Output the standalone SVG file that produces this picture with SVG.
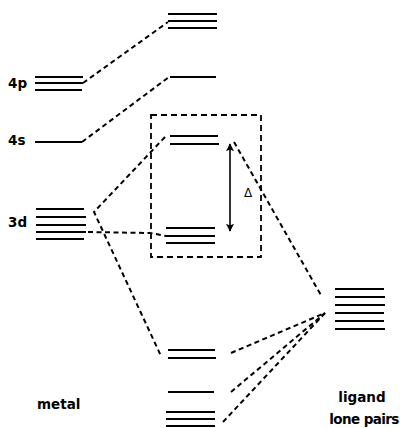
<svg xmlns="http://www.w3.org/2000/svg" width="400" height="428" viewBox="0 0 400 428">
  <defs>
    <style>
      .lvl { stroke: #000; stroke-width: 1.9; fill: none; }
      .dash { stroke: #000; stroke-width: 2; fill: none; stroke-dasharray: 5 3.5; }
      .box { stroke: #000; stroke-width: 1.8; fill: none; stroke-dasharray: 6 4; }
      .lbl { font-family: "DejaVu Sans", "Liberation Sans", sans-serif; font-weight: bold; font-size: 13.5px; fill: #000; }
      .arr { stroke: #000; stroke-width: 1.6; fill: none; }
    </style>
    <marker id="head" viewBox="0 0 10 10" refX="9" refY="5" markerWidth="14" markerHeight="8" markerUnits="userSpaceOnUse" orient="auto-start-reverse">
      <path d="M0,0 L10,5 L0,10 L2,5 Z" fill="#000"/>
    </marker>
  </defs>
  <rect width="400" height="428" fill="#fff"/>

  <!-- metal orbitals -->
  <g id="metal-4p">
    <line class="lvl" x1="35" y1="77" x2="83" y2="77"/>
    <line class="lvl" x1="35" y1="83" x2="83" y2="83"/>
    <line class="lvl" x1="35" y1="90" x2="82" y2="90"/>
    <text class="lbl" x="8" y="88">4p</text>
  </g>
  <g id="metal-4s">
    <line class="lvl" x1="35" y1="142" x2="82" y2="142"/>
    <text class="lbl" x="8" y="145">4s</text>
  </g>
  <g id="metal-3d">
    <line class="lvl" x1="36" y1="209" x2="84" y2="209"/>
    <line class="lvl" x1="36" y1="217" x2="86" y2="217"/>
    <line class="lvl" x1="36" y1="225" x2="86" y2="225"/>
    <line class="lvl" x1="36" y1="232" x2="86" y2="232"/>
    <line class="lvl" x1="36" y1="239" x2="84" y2="239"/>
    <text class="lbl" x="8" y="227">3d</text>
  </g>
  <g id="metal-label">
    <text class="lbl" x="37" y="409">metal</text>
  </g>

  <!-- molecular orbitals -->
  <g id="mo-t1u">
    <line class="lvl" x1="168" y1="14" x2="217" y2="14"/>
    <line class="lvl" x1="168" y1="21" x2="217" y2="21"/>
    <line class="lvl" x1="168" y1="28" x2="217" y2="28"/>
  </g>
  <g id="mo-a1g">
    <line class="lvl" x1="170" y1="77" x2="216" y2="77"/>
  </g>
  <g id="mo-eg-upper">
    <line class="lvl" x1="170" y1="136" x2="218" y2="136"/>
    <line class="lvl" x1="170" y1="144" x2="219" y2="144"/>
  </g>
  <g id="mo-t2g">
    <line class="lvl" x1="166" y1="228" x2="215" y2="228"/>
    <line class="lvl" x1="166" y1="236" x2="215" y2="236"/>
    <line class="lvl" x1="166" y1="243" x2="215" y2="243"/>
  </g>
  <g id="mo-eg-lower">
    <line class="lvl" x1="168" y1="350" x2="215" y2="350"/>
    <line class="lvl" x1="168" y1="358" x2="216" y2="358"/>
  </g>
  <g id="mo-a1g-lower">
    <line class="lvl" x1="168" y1="392" x2="214" y2="392"/>
  </g>
  <g id="mo-t1u-lower">
    <line class="lvl" x1="166" y1="412" x2="215" y2="412"/>
    <line class="lvl" x1="166" y1="419" x2="215" y2="419"/>
    <line class="lvl" x1="166" y1="426" x2="215" y2="426"/>
  </g>

  <!-- ligand orbitals -->
  <g id="ligand">
    <line class="lvl" x1="335" y1="289" x2="384" y2="289"/>
    <line class="lvl" x1="335" y1="297" x2="385" y2="297"/>
    <line class="lvl" x1="335" y1="305" x2="385" y2="305"/>
    <line class="lvl" x1="335" y1="313" x2="384" y2="313"/>
    <line class="lvl" x1="335" y1="321" x2="384" y2="321"/>
    <line class="lvl" x1="335" y1="329" x2="385" y2="329"/>
    <text class="lbl" x="362" y="402" text-anchor="middle" font-size="13">ligand</text>
    <text class="lbl" x="364" y="424" text-anchor="middle" font-size="13" letter-spacing="-0.6">lone pairs</text>
  </g>

  <!-- splitting box and Delta -->
  <g id="splitting">
    <rect class="box" x="151" y="115" width="110" height="142"/>
    <line class="arr" x1="230" y1="144" x2="230" y2="231" marker-start="url(#head)" marker-end="url(#head)"/>
    <text x="248" y="197" text-anchor="middle" font-family="DejaVu Sans, sans-serif" font-size="12" fill="#000">Δ</text>
  </g>

  <!-- correlation lines -->
  <g id="connectors">
    <line class="dash" x1="83" y1="83" x2="168" y2="22"/>
    <line class="dash" x1="82" y1="142" x2="169" y2="77"/>
    <polyline class="dash" points="165,137 94,212 161,356"/>
    <polyline class="dash" points="88,232 150,233 166,236"/>
    <line class="dash" x1="234" y1="142" x2="322" y2="297"/>
    <line class="dash" x1="231" y1="353" x2="325" y2="313"/>
    <line class="dash" x1="231" y1="392" x2="325" y2="313"/>
    <line class="dash" x1="223" y1="422" x2="325" y2="313"/>
  </g>
</svg>
